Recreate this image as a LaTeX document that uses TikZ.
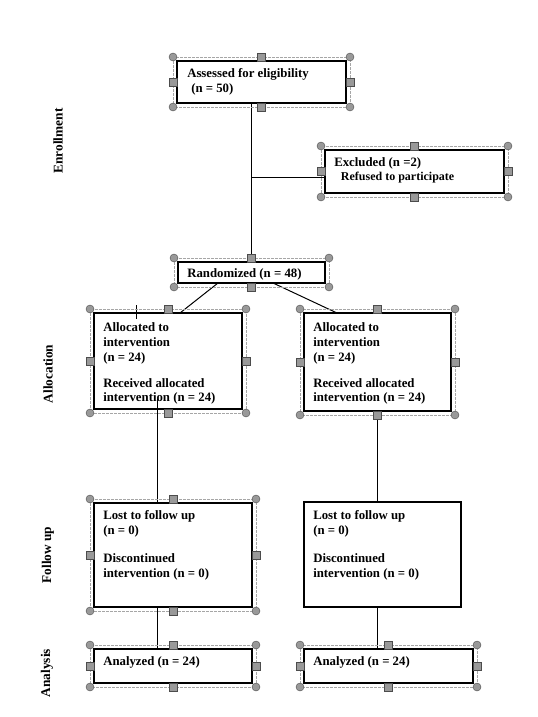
\documentclass[tikz,border=0pt]{standalone}
\usepackage{fontspec}
\setmainfont{Liberation Serif}
\usetikzlibrary{calc}
\tikzset{
  box/.style={draw=black, line width=0.9pt, rectangle, inner sep=0pt, outer sep=0pt, fill=white},
  btext/.style={anchor=base west, inner sep=0pt, align=left, font=\fontsize{9.6}{11.25}\selectfont\bfseries},
  side/.style={rotate=90, inner sep=0pt, font=\fontsize{10}{12}\selectfont\bfseries},
  conn/.style={draw=black, line width=0.75pt},
  selframe/.style={draw=gray!70, line width=0.5pt, dash pattern=on 2pt off 1pt},
  hcirc/.style={fill=gray!80, draw=gray!60!black, line width=0.3pt},
  hsq/.style={fill=gray!80, draw=gray!60!black, line width=0.3pt},
}
% selection frame with handles: #1 node, #2 = 1 draws side handles
\newcommand\selhandles[2]{%
  \draw[selframe] ($(#1.north west)+(-4,-4)$) rectangle ($(#1.south east)+(4,4)$);
  \foreach \an/\sx/\sy in {north west/-4/-4, north east/4/-4, south west/-4/4, south east/4/4}
    {\draw[hcirc] ($(#1.\an)+(\sx,\sy)$) circle (3pt);}
  \foreach \an/\sx/\sy in {north/0/-4, south/0/4}
    {\draw[hsq] ($(#1.\an)+(\sx,\sy)+(-2.9pt,-2.9pt)$) rectangle +(5.8pt,5.8pt);}
  \ifnum#2=1
  \foreach \an/\sx/\sy in {west/-4/0, east/4/0}
    {\draw[hsq] ($(#1.\an)+(\sx,\sy)+(-2.9pt,-2.9pt)$) rectangle +(5.8pt,5.8pt);}
  \fi
}
\begin{document}
\begin{tikzpicture}[x=0.75pt, y=-0.75pt]
\useasboundingbox[fill=white] (0,0) rectangle (538,717);

% side labels
\node[side] (lenr) at (58,141) {Enrollment};
\node[side] (lall) at (48,374) {Allocation};
\node[side] (lfol) at (48,555) {Follow up};
\node[side] (lana) at (47,673) {Analysis};

\coordinate (j) at (251.5,177);
\coordinate (lv) at (157,399);
\coordinate (tick1) at (136,305);
\coordinate (tick2) at (136,319);

% boxes
\node[box, minimum width=169*0.75pt, minimum height=42*0.75pt] (A) at (261.5,82) {};
\node[box, minimum width=179*0.75pt, minimum height=43*0.75pt] (E) at (414.5,171.5) {};
\node[box, minimum width=147*0.75pt, minimum height=21*0.75pt] (R) at (251.5,272.5) {};
\node[box, minimum width=148*0.75pt, minimum height=96*0.75pt] (L1) at (168,361) {};
\node[box, minimum width=147*0.75pt, minimum height=98*0.75pt] (R1) at (377.5,362) {};
\node[box, minimum width=158*0.75pt, minimum height=104*0.75pt] (L2) at (173,555) {};
\node[box, minimum width=157*0.75pt, minimum height=105*0.75pt] (R2) at (382.5,554.5) {};
\node[box, minimum width=158*0.75pt, minimum height=34*0.75pt] (L3) at (173,666) {};
\node[box, minimum width=169*0.75pt, minimum height=34*0.75pt] (R3) at (388.5,666) {};

% connectors
\draw[conn] (A.south -| R.north) -- (R.north);
\draw[conn] (j) -- (j -| E.west);
\draw[conn] ($(R.south west)+(40,0)$) -- ($(L1.north west)+(86,0)$);
\draw[conn] ($(R.south west)+(95,0)$) -- ($(R1.north west)+(33,0)$);
\draw[conn] (tick1) -- (tick2);
\draw[conn] (lv) -- (lv |- L2.north);
\draw[conn] (lv |- L2.south) -- (lv |- L3.north);
\draw[conn] (R1.south) -- (R1.south |- R2.north);
\draw[conn] (R1.south |- R2.south) -- (R1.south |- R3.north);

% texts (anchor = baseline of the last line)
\node[btext] (tA) at (187,93) {Assessed for eligibility\\\hspace*{3pt}(n = 50)};
\node[btext] (tE) at (334,180) {Excluded (n =2)\\[-0.75pt]\hspace*{5pt}\fontsize{9}{11.25}\selectfont Refused to participate};
\node[btext] (tR) at (187,277) {Randomized (n = 48)};
\node[btext] (tL1) at (103,401) {Allocated to\\intervention\\(n = 24)\\[8.25pt]Received allocated\\[-0.75pt]intervention (n = 24)};
\node[btext] (tR1) at (313,401) {Allocated to\\intervention\\(n = 24)\\[8.25pt]Received allocated\\[-0.75pt]intervention (n = 24)};
\node[btext] (tL2) at (103,577) {Lost to follow up\\(n = 0)\\[9.75pt]Discontinued\\intervention (n = 0)};
\node[btext] (tR2) at (313,577) {Lost to follow up\\(n = 0)\\[9.75pt]Discontinued\\intervention (n = 0)};
\node[btext] (tL3) at (103,665) {Analyzed (n = 24)};
\node[btext] (tR3) at (313,665) {Analyzed (n = 24)};

% selection handles
\selhandles{A}{1}
\selhandles{E}{1}
\selhandles{R}{0}
\selhandles{L1}{1}
\selhandles{R1}{1}
\selhandles{L2}{1}
\selhandles{L3}{1}
\selhandles{R3}{1}
\end{tikzpicture}
\end{document}
